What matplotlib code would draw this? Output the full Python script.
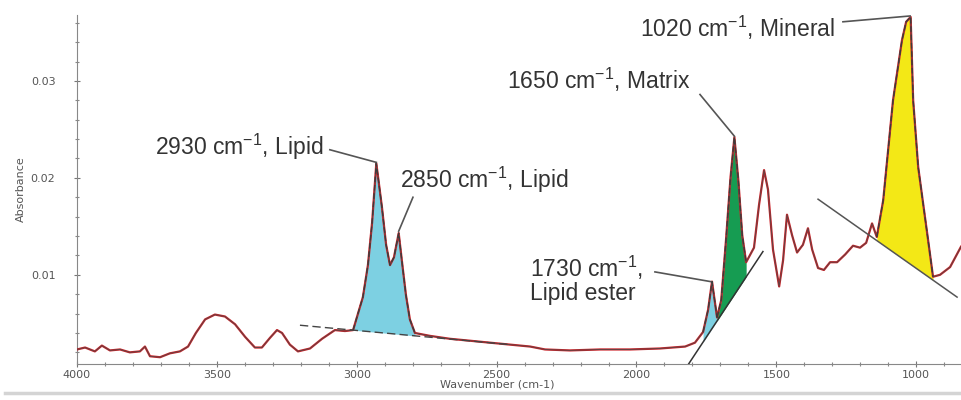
import numpy as np
import matplotlib
matplotlib.use('Agg')
import matplotlib.pyplot as plt
from matplotlib.ticker import MultipleLocator, FixedLocator

plt.rcParams['font.family'] = ['Liberation Sans', 'DejaVu Sans']
plt.rcParams['mathtext.fontset'] = 'custom'
plt.rcParams['mathtext.rm'] = 'Liberation Sans'

# IR spectrum (wavenumber in cm-1, absorbance)
wavenumber = [4000, 3971, 3936, 3911, 3882, 3846, 3811, 3775, 3757, 3739,
              3703, 3668, 3632, 3603, 3575, 3542, 3507, 3471, 3435, 3399,
              3364, 3339, 3310, 3285, 3267, 3239, 3210, 3167, 3124, 3078,
              3042, 3013, 2978, 2960, 2945, 2930, 2910, 2895, 2881, 2867,
              2850, 2838, 2824, 2810, 2792, 2738, 2667, 2595, 2524, 2452,
              2380, 2327, 2238, 2130, 2023, 1916, 1826, 1791, 1762, 1744,
              1730, 1712, 1697, 1680, 1664, 1650, 1636, 1622, 1608, 1580,
              1562, 1544, 1530, 1512, 1490, 1476, 1462, 1444, 1426, 1405,
              1387, 1372, 1351, 1330, 1308, 1283, 1254, 1226, 1201, 1179,
              1158, 1141, 1118, 1083, 1051, 1036, 1020, 1011, 993, 961,
              940, 915, 879, 840]
absorbance = [0.0023, 0.0025, 0.0021, 0.0027, 0.0022, 0.0023, 0.0020, 0.0021, 0.0026, 0.0016,
              0.0015, 0.0019, 0.0021, 0.0026, 0.0040, 0.0054, 0.0059, 0.0057, 0.0049, 0.0036,
              0.0025, 0.0025, 0.0035, 0.0043, 0.0040, 0.0028, 0.0021, 0.0024, 0.0034, 0.0043,
              0.0042, 0.0043, 0.0077, 0.0110, 0.0154, 0.0215, 0.0170, 0.0131, 0.0110, 0.0118,
              0.0143, 0.0113, 0.0079, 0.0054, 0.0040, 0.0037, 0.0034, 0.0032, 0.0030, 0.0028,
              0.0026, 0.0023, 0.0022, 0.0023, 0.0023, 0.0024, 0.0026, 0.0030, 0.0041, 0.0064,
              0.0093, 0.0056, 0.0074, 0.0136, 0.0200, 0.0242, 0.0198, 0.0141, 0.0113, 0.0128,
              0.0172, 0.0208, 0.0188, 0.0126, 0.0088, 0.0115, 0.0162, 0.0141, 0.0123, 0.0131,
              0.0148, 0.0126, 0.0107, 0.0105, 0.0113, 0.0113, 0.0121, 0.0130, 0.0128, 0.0133,
              0.0153, 0.0139, 0.0177, 0.0280, 0.0342, 0.0361, 0.0366, 0.0280, 0.0211, 0.0143,
              0.0098, 0.0100, 0.0108, 0.0129]

# baselines used for the band areas (two end points each)
lipid_base_wn = [3203, 2452]
lipid_base_abs = [0.0048, 0.0028]
amide_base_wn = [1816, 1548]
amide_base_abs = [0.0007, 0.0124]
mineral_base_wn = [1351, 854]
mineral_base_abs = [0.0178, 0.0077]

# band ranges: (start, end, colour, baseline)
bands = [(3013, 2792, '#7dd0e2', lipid_base_wn, lipid_base_abs),
         (1762, 1712, '#7dd0e2', amide_base_wn, amide_base_abs),
         (1712, 1608, '#169c52', amide_base_wn, amide_base_abs),
         (1141, 940, '#f3e816', mineral_base_wn, mineral_base_abs)]

wn = np.array(wavenumber, dtype=float)
ab = np.array(absorbance)

fig = plt.figure(figsize=(9.61, 4.0), dpi=100)
ax = fig.add_axes([0.0801, 0.09, 0.9199, 0.8725])

for start, end, col, bwn, bab in bands:
    m = (wn <= start) & (wn >= end)
    base = np.interp(wn[m], bwn[::-1], bab[::-1])
    ax.fill_between(wn[m], ab[m], base, color=col, lw=0, zorder=2)

ax.plot(wn, ab, color='#cc2228', lw=1.6, zorder=3)
ax.plot(wn, ab, color='#4a4a4a', lw=0.7, alpha=0.8, zorder=4)

# dashed outlines of the band areas
for start, end, col, bwn, bab in bands:
    m = (wn <= start) & (wn >= end)
    ax.plot(wn[m], ab[m], color='#3c3c3c', lw=1.0, ls=(0, (4, 2)), zorder=5)

ax.plot(lipid_base_wn, lipid_base_abs, color='#444444', lw=1.0, ls=(0, (6, 3)), zorder=5)
ax.plot(amide_base_wn, amide_base_abs, color='#333333', lw=1.1, zorder=5)
ax.plot(mineral_base_wn, mineral_base_abs, color='#555555', lw=1.1, zorder=5)

# labels with leader lines
txt = dict(fontsize=16.5, color='#333333', zorder=6)
sup = r'cm$^{\mathregular{-1}}$'
lead = dict(color='#555555', lw=1.2, zorder=6)

ax.text(3117, 0.0232, '2930 ' + sup + ', Lipid', ha='right', va='center', **txt)
ax.plot([3096, 2930], [0.0229, 0.0216], **lead)

ax.text(2845, 0.0198, '2850 ' + sup + ', Lipid', ha='left', va='center', **txt)
ax.plot([2799, 2850], [0.0180, 0.0145], **lead)

ax.text(2381, 0.0107, '1730 ' + sup + ',', ha='left', va='center', **txt)
ax.text(2381, 0.0081, 'Lipid ester', ha='left', va='center', **txt)
ax.plot([1934, 1735], [0.0103, 0.0093], **lead)

ax.text(1808, 0.0301, '1650 ' + sup + ', Matrix', ha='right', va='center', **txt)
ax.plot([1773, 1650], [0.0286, 0.0243], **lead)

ax.text(1290, 0.0355, '1020 ' + sup + ', Mineral', ha='right', va='center', **txt)
ax.plot([1262, 1022], [0.0361, 0.0367], **lead)

ax.set_xlim(4000, 840)
ax.set_ylim(0.0008, 0.0368)

ax.xaxis.set_major_locator(FixedLocator([4000, 3500, 3000, 2500, 2000, 1500, 1000]))
ax.xaxis.set_minor_locator(MultipleLocator(100))
ax.yaxis.set_major_locator(FixedLocator([0.01, 0.02, 0.03]))
ax.yaxis.set_minor_locator(MultipleLocator(0.002))
ax.yaxis.set_major_formatter(plt.FuncFormatter(lambda v, p: '%.2f' % v))

tick_font = ['Liberation Sans Narrow', 'DejaVu Sans']
for lab in ax.get_xticklabels() + ax.get_yticklabels():
    lab.set_family(tick_font)
ax.tick_params(which='major', direction='inout', length=5, width=0.8,
               color='#777777', labelsize=8, labelcolor='#555555', pad=2)
ax.tick_params(axis='y', which='major', pad=13)
ax.tick_params(which='minor', direction='inout', length=3, width=0.8, color='#888888')

for s in ['top', 'right']:
    ax.spines[s].set_visible(False)
for s in ['left', 'bottom']:
    ax.spines[s].set_color('#888888')
    ax.spines[s].set_linewidth(0.8)

ax.set_xlabel('Wavenumber (cm-1)', fontsize=8, color='#555555', family=tick_font, labelpad=1)
ax.xaxis.set_label_coords(0.475, -0.045)
ax.set_ylabel('Absorbance', fontsize=8, color='#555555', family=tick_font)
ax.yaxis.set_label_coords(-0.058, 0.5)

# thin separator along the bottom edge
fig.add_artist(plt.Line2D([0.005, 1.0], [0.018, 0.018], color='#d4d4d4', lw=2.5))

fig.savefig('out.png', dpi=100)
